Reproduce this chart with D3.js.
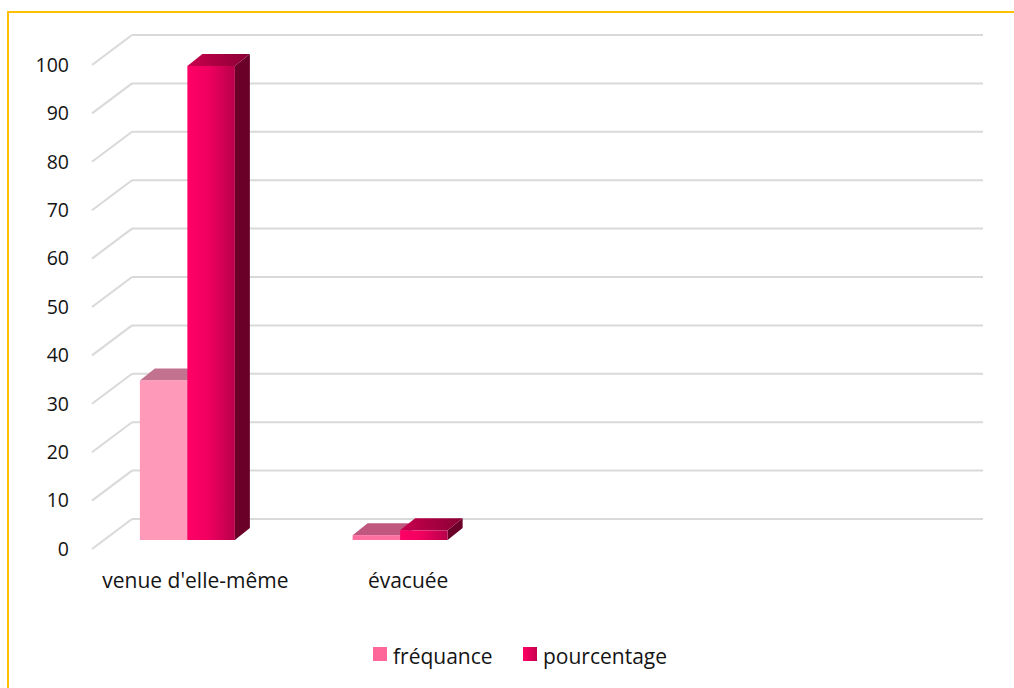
<!DOCTYPE html>
<html>
<head>
<meta charset="utf-8">
<script src="https://cdn.jsdelivr.net/npm/d3@7"></script>
<style>
  html, body { margin: 0; padding: 0; background: #ffffff; }
  svg { display: block; }
  text { font-family: "Open Sans", "Noto Sans", sans-serif; fill: #141414; }
</style>
</head>
<body>
<svg id="chart" width="1014" height="688"></svg>
<script>
// Categories, series and values
const categories = ["venue d'elle-même", "évacuée"];
const seriesNames = ["fréquance", "pourcentage"];
const frequence = [33, 1];
const pourcentage = [98, 2];
const yTicks = [0, 10, 20, 30, 40, 50, 60, 70, 80, 90, 100];

const values = [frequence, pourcentage];

const svg = d3.select("#chart");
const W = 1014, H = 688;

// Frame around the chart area
svg.append("path")
  .attr("d", `M8,${H} L8,12 L${W},12`)
  .attr("fill", "none")
  .attr("stroke", "#FFC000")
  .attr("stroke-width", 2);

// 3D box geometry: back wall, side-wall depth, bar depth
const wallLeft = 132, wallRight = 983;
const wallDepth = { dx: -40, dy: 30 };
const barDepth = { dx: 15, dy: -12 };

const yBack = d3.scaleLinear().domain([0, 100]).range([519, 35]);
const yFront = d3.scaleLinear().domain([0, 100]).range([519 + wallDepth.dy, 35 + wallDepth.dy]);
const yBar = d3.scaleLinear().domain([0, 100]).range([540, 540 - 483.7]);

const bandStep = (wallRight - wallLeft) / 4;
const x = d3.scaleBand().domain(categories).range([81, 81 + bandStep * categories.length]);
const groupWidth = x.bandwidth() * 0.4465;
const xs = d3.scaleBand().domain(seriesNames).range([0, groupWidth]);

// Gridlines: back wall + side wall
const grid = svg.append("g");
grid.selectAll("line.back").data(yTicks).join("line")
  .attr("class", "back")
  .attr("x1", wallLeft).attr("x2", wallRight)
  .attr("y1", d => yBack(d)).attr("y2", d => yBack(d))
  .attr("stroke", "#D9D9D9").attr("stroke-width", 2);
grid.selectAll("line.side").data(yTicks).join("line")
  .attr("class", "side")
  .attr("x1", wallLeft + wallDepth.dx).attr("x2", wallLeft)
  .attr("y1", d => yFront(d)).attr("y2", d => yBack(d))
  .attr("stroke", "#D9D9D9").attr("stroke-width", 2);

// Y axis labels
svg.append("g").selectAll("text").data(yTicks).join("text")
  .attr("x", 69).attr("y", d => yFront(d))
  .attr("dy", "0.35em")
  .attr("text-anchor", "end")
  .attr("font-size", 19.5)
  .text(d => d);

// Gradients
const defs = svg.append("defs");
function hGrad(id, stops) {
  const g = defs.append("linearGradient").attr("id", id)
    .attr("x1", "0%").attr("x2", "100%").attr("y1", "0%").attr("y2", "0%");
  stops.forEach(([o, c]) => g.append("stop").attr("offset", o).attr("stop-color", c));
}
hGrad("pctFront", [["0%", "#FF0066"], ["45%", "#F00060"], ["100%", "#B8004A"]]);
hGrad("pctTop", [["0%", "#C8004E"], ["100%", "#8A0034"]]);
hGrad("pctLegend", [["0%", "#FF0066"], ["100%", "#C8004F"]]);

const styles = [
  { front: "#FF99B9", frontSmall: "#FF6F9F", top: "#C2718E", topSmall: "#C0577F", side: "#B0506F", legend: "#FF6699" },
  { front: "url(#pctFront)", frontSmall: "url(#pctFront)", top: "url(#pctTop)", topSmall: "url(#pctTop)", side: "#6A0028", legend: "url(#pctLegend)" }
];

// Bars (drawn as 3D boxes)
const bars = svg.append("g");
categories.forEach((cat, ci) => {
  const gx = x(cat) + (x.bandwidth() - groupWidth) / 2;
  seriesNames.forEach((s, si) => {
    const v = values[si][ci];
    const st = styles[si];
    const small = v < 10;
    const x0 = gx + xs(s), x1 = x0 + xs.bandwidth();
    const y0 = yBar(0), y1 = yBar(v);
    const dx = barDepth.dx, dy = barDepth.dy;
    const g = bars.append("g");
    // side face
    g.append("path")
      .attr("d", `M${x1},${y1} L${x1 + dx},${y1 + dy} L${x1 + dx},${y0 + dy} L${x1},${y0} Z`)
      .attr("fill", st.side);
    // top face
    g.append("path")
      .attr("d", `M${x0},${y1} L${x0 + dx},${y1 + dy} L${x1 + dx},${y1 + dy} L${x1},${y1} Z`)
      .attr("fill", small ? st.topSmall : st.top);
    // front face
    g.append("rect")
      .attr("x", x0).attr("y", y1)
      .attr("width", x1 - x0).attr("height", y0 - y1)
      .attr("fill", small ? st.frontSmall : st.front);
  });
});

// Category labels
svg.append("g").selectAll("text").data(categories).join("text")
  .attr("x", d => x(d) + x.bandwidth() / 2 + 8)
  .attr("y", 588)
  .attr("text-anchor", "middle")
  .attr("font-size", 21)
  .text(d => d);

// Legend
const legendItems = [
  { name: seriesNames[0], x: 373, fill: styles[0].legend },
  { name: seriesNames[1], x: 523, fill: styles[1].legend }
];
const lg = svg.append("g");
legendItems.forEach(it => {
  lg.append("rect").attr("x", it.x).attr("y", 647).attr("width", 14).attr("height", 14).attr("fill", it.fill);
  lg.append("text").attr("x", it.x + 20).attr("y", 664).attr("font-size", 21).text(it.name);
});
</script>
</body>
</html>
